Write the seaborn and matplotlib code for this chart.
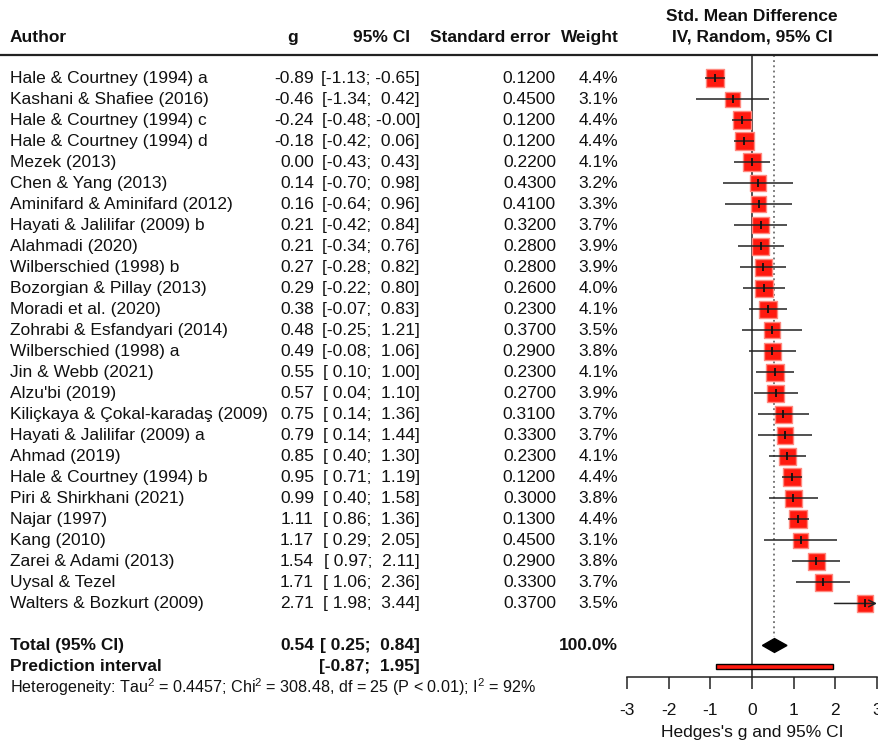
import matplotlib
matplotlib.use("Agg")
import matplotlib.pyplot as plt
import matplotlib.transforms as mtransforms
from matplotlib.patches import Polygon, Rectangle
from matplotlib.lines import Line2D
import numpy as np
import pandas as pd
import seaborn as sns

authors = [
    "Hale & Courtney (1994) a", "Kashani & Shafiee (2016)", "Hale & Courtney (1994) c",
    "Hale & Courtney (1994) d", "Mezek (2013)", "Chen & Yang (2013)",
    "Aminifard & Aminifard (2012)", "Hayati & Jalilifar (2009) b", "Alahmadi (2020)",
    "Wilberschied (1998) b", "Bozorgian & Pillay (2013)", "Moradi et al. (2020)",
    "Zohrabi & Esfandyari (2014)", "Wilberschied (1998) a", "Jin & Webb (2021)",
    "Alzu'bi (2019)", "Kiliçkaya & Çokal-karadaş (2009)", "Hayati & Jalilifar (2009) a",
    "Ahmad (2019)", "Hale & Courtney (1994) b", "Piri & Shirkhani (2021)", "Najar (1997)",
    "Kang (2010)", "Zarei & Adami (2013)", "Uysal & Tezel", "Walters & Bozkurt (2009)",
]
g = [-0.89, -0.46, -0.24, -0.18, 0.00, 0.14, 0.16, 0.21, 0.21, 0.27, 0.29, 0.38, 0.48,
     0.49, 0.55, 0.57, 0.75, 0.79, 0.85, 0.95, 0.99, 1.11, 1.17, 1.54, 1.71, 2.71]
ci_low = [-1.13, -1.34, -0.48, -0.42, -0.43, -0.70, -0.64, -0.42, -0.34, -0.28, -0.22, -0.07,
          -0.25, -0.08, 0.10, 0.04, 0.14, 0.14, 0.40, 0.71, 0.40, 0.86, 0.29, 0.97, 1.06, 1.98]
ci_high = [-0.65, 0.42, -0.00, 0.06, 0.43, 0.98, 0.96, 0.84, 0.76, 0.82, 0.80, 0.83, 1.21,
           1.06, 1.00, 1.10, 1.36, 1.44, 1.30, 1.19, 1.58, 1.36, 2.05, 2.11, 2.36, 3.44]
ci_high_label = ["-0.65", "0.42", "-0.00", "0.06", "0.43", "0.98", "0.96", "0.84", "0.76",
                 "0.82", "0.80", "0.83", "1.21", "1.06", "1.00", "1.10", "1.36", "1.44",
                 "1.30", "1.19", "1.58", "1.36", "2.05", "2.11", "2.36", "3.44"]
se = [0.12, 0.45, 0.12, 0.12, 0.22, 0.43, 0.41, 0.32, 0.28, 0.28, 0.26, 0.23, 0.37, 0.29,
      0.23, 0.27, 0.31, 0.33, 0.23, 0.12, 0.30, 0.13, 0.45, 0.29, 0.33, 0.37]
weight = [4.4, 3.1, 4.4, 4.4, 4.1, 3.2, 3.3, 3.7, 3.9, 3.9, 4.0, 4.1, 3.5, 3.8, 4.1, 3.9,
          3.7, 3.7, 4.1, 4.4, 3.8, 4.4, 3.1, 3.8, 3.7, 3.5]

total_g, total_low, total_high = 0.54, 0.25, 0.84
pred_low, pred_high = -0.87, 1.95
xticks = [-3, -2, -1, 0, 1, 2, 3]
het_text = ("Heterogeneity: Tau$^2$ = 0.4457; Chi$^2$ = 308.48, df = 25 "
            "(P < 0.01); I$^2$ = 92%")

df = pd.DataFrame({"author": authors, "g": g, "lo": ci_low, "hi": ci_high,
                   "se": se, "w": weight})
df["row"] = np.arange(len(df))

sns.set_theme(style="white")
plt.rcParams["font.family"] = ["Liberation Sans", "DejaVu Sans"]
plt.rcParams["mathtext.fontset"] = "custom"
plt.rcParams["mathtext.rm"] = "Liberation Sans"
plt.rcParams["mathtext.it"] = "Liberation Sans:italic"
plt.rcParams["mathtext.bf"] = "Liberation Sans:bold"

W, H = 879, 740
fig = plt.figure(figsize=(W / 100, H / 100), dpi=100)
ax = fig.add_axes([627 / W, (H - 677) / H, 250 / W, (677 - 55) / H])
ax.set_xlim(-3, 3)
ax.set_ylim(28.5, -1.1)

FS = 12.5
TXT = "#111111"
tr = mtransforms.blended_transform_factory(fig.transFigure, ax.transData)


def px(x):
    return x / W


# reference lines
ax.axvline(0, color="#222222", lw=1.1, zorder=1)
ax.plot([total_g, total_g], [-1.1, 26.6], color="#555555", lw=1.1,
        linestyle=(0, (1.2, 2.2)), zorder=1)

# squares
sns.scatterplot(data=df, x="g", y="row", size="w", sizes=(3.1 * 38.5, 4.4 * 38.5),
                size_norm=(3.1, 4.4), marker="s", color="#FF1A0F", edgecolor="#FF8A80",
                linewidth=1.0, legend=False, ax=ax, zorder=3, clip_on=False)

# CI lines
for _, r in df.iterrows():
    hi = min(r["hi"], 3)
    lo = max(r["lo"], -3)
    if r["hi"] > 3:
        ax.annotate("", xy=(3, r["row"]), xytext=(lo, r["row"]),
                    arrowprops=dict(arrowstyle="->", lw=1.1, color="#222222",
                                    shrinkA=0, shrinkB=0), zorder=4)
    else:
        ax.plot([lo, hi], [r["row"], r["row"]], color="#222222", lw=1.1, zorder=4,
                solid_capstyle="butt")
    ax.plot([r["g"]], [r["row"]], marker="|", markersize=6, mew=1.3, color="#111111",
            zorder=5)

# diamond
yt = 27
ax.add_patch(Polygon([[total_low, yt], [total_g, yt - 0.33], [total_high, yt],
                      [total_g, yt + 0.33]], closed=True, facecolor="black",
                     edgecolor="black", zorder=4, clip_on=False))
# prediction interval
ax.add_patch(Rectangle((pred_low, 28 - 0.1), pred_high - pred_low, 0.2,
                       facecolor="#FF1A0F", edgecolor="black", lw=1.0, zorder=4,
                       clip_on=False))

# axis styling
for s in ["top", "right", "left"]:
    ax.spines[s].set_visible(False)
ax.spines["bottom"].set_color("#222222")
ax.spines["bottom"].set_linewidth(1.1)
ax.set_yticks([])
ax.set_ylabel("")
ax.set_xticks(xticks)
ax.set_xticklabels([str(t) for t in xticks])
ax.tick_params(axis="x", direction="out", length=8.5, width=1.1, color="#222222",
               pad=10, labelsize=FS, labelcolor=TXT, bottom=True)
ax.set_xlabel("Hedges's g and 95% CI", fontsize=FS, color=TXT, labelpad=5)
ax.patch.set_alpha(0)

# header
hrow = -1.95
kw_h = dict(transform=tr, fontsize=FS, fontweight="bold", color=TXT, va="center",
            clip_on=False)
ax.text(px(10), hrow, "Author", ha="left", **kw_h)
ax.text(px(293), hrow, "g", ha="center", **kw_h)
ax.text(px(410), hrow, "95% CI", ha="right", **kw_h)
ax.text(px(551), hrow, "Standard error", ha="right", **kw_h)
ax.text(px(619), hrow, "Weight", ha="right", **kw_h)
ax.text(px(752), -2.95, "Std. Mean Difference", ha="center", **kw_h)
ax.text(px(752), hrow, "IV, Random, 95% CI", ha="center", **kw_h)
fig.add_artist(Line2D([0, 1], [(H - 55) / H, (H - 55) / H], color="#222222", lw=1.6))

# study rows
kw = dict(transform=tr, fontsize=FS, color=TXT, va="center", clip_on=False)
for i, r in df.iterrows():
    y = r["row"]
    ax.text(px(10), y, r["author"], ha="left", **kw)
    ax.text(px(314), y, f"{r['g']:.2f}", ha="right", **kw)
    lo_s = f"{r['lo']:.2f}"
    if r["lo"] >= 0:
        lo_s = " " + lo_s
    hi_s = ci_high_label[i]
    if not hi_s.startswith("-"):
        hi_s = " " + hi_s
    ax.text(px(420), y, f"[{lo_s}; {hi_s}]", ha="right", **kw)
    ax.text(px(556), y, f"{r['se']:.4f}", ha="right", **kw)
    ax.text(px(618), y, f"{r['w']:.1f}%", ha="right", **kw)

kw_b = dict(kw, fontweight="bold")
ax.text(px(10), 27, "Total (95% CI)", ha="left", **kw_b)
ax.text(px(314), 27, f"{total_g:.2f}", ha="right", **kw_b)
ax.text(px(420), 27, f"[ {total_low:.2f};  {total_high:.2f}]", ha="right", **kw_b)
ax.text(px(618), 27, "100.0%", ha="right", **kw_b)
ax.text(px(10), 28, "Prediction interval", ha="left", **kw_b)
ax.text(px(420), 28, f"[{pred_low:.2f};  {pred_high:.2f}]", ha="right", **kw_b)
ax.text(px(10), 29.0, het_text, ha="left", transform=tr, fontsize=11.6, color=TXT,
        va="center", clip_on=False)

fig.savefig("out.png", dpi=100)
